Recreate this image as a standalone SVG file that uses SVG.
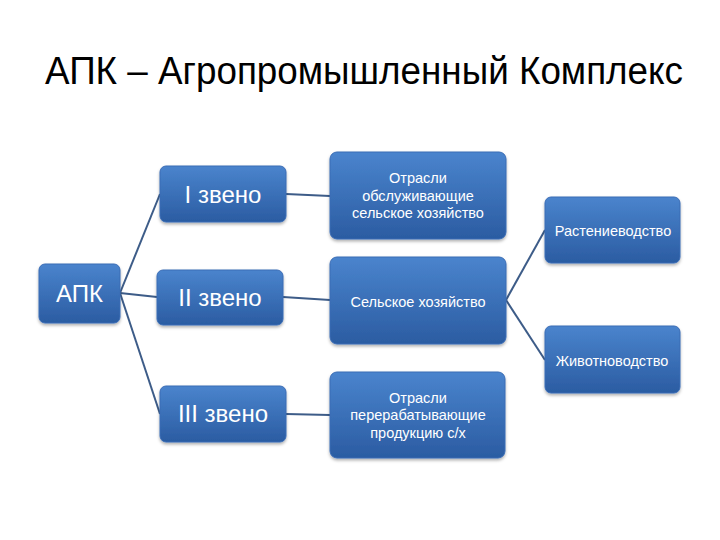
<svg xmlns="http://www.w3.org/2000/svg" width="720" height="540" viewBox="0 0 720 540">
<defs>
<linearGradient id="g" x1="0" y1="0" x2="0" y2="1">
<stop offset="0" stop-color="#4a84cd"/>
<stop offset="1" stop-color="#2b5ca2"/>
</linearGradient>
<filter id="sh" x="-10%" y="-10%" width="120%" height="130%">
<feDropShadow dx="0" dy="2" stdDeviation="1.5" flood-color="#000" flood-opacity="0.3"/>
</filter>
</defs>
<style>
.box{fill:url(#g);stroke:#3a6cb5;stroke-width:1;filter:url(#sh)}
.t{font-family:"Liberation Sans","DejaVu Sans",sans-serif;fill:#fff;text-anchor:middle}
.big{font-size:24px}
.sm{font-size:14.5px}
.con line{stroke:#3d5c88;stroke-width:2}
.title{font-family:"Liberation Sans","DejaVu Sans",sans-serif;font-size:38px;fill:#000}
</style>
<rect width="720" height="540" fill="#fff"/>
<text class="title" x="45" y="84" textLength="638" lengthAdjust="spacingAndGlyphs">АПК – Агропромышленный Комплекс</text>
<g id="connectors" class="con">
<line x1="120" y1="293" x2="160" y2="194"/>
<line x1="120" y1="293" x2="157" y2="297"/>
<line x1="120" y1="293" x2="160" y2="414"/>
<line x1="286" y1="194" x2="330" y2="196"/>
<line x1="283" y1="297" x2="330" y2="300"/>
<line x1="286" y1="414" x2="330" y2="415"/>
<line x1="506" y1="300" x2="545" y2="230"/>
<line x1="506" y1="300" x2="545" y2="360"/>
</g>
<g id="apk"><rect class="box" x="39" y="264" width="81" height="59" rx="6"/><text class="t big" x="79.5" y="302">АПК</text></g>
<g id="zveno1"><rect class="box" x="160" y="166" width="126" height="56" rx="6"/><text class="t big" x="223" y="203">I звено</text></g>
<g id="zveno2"><rect class="box" x="157" y="270" width="126" height="55" rx="6"/><text class="t big" x="220" y="306">II звено</text></g>
<g id="zveno3"><rect class="box" x="160" y="386" width="126" height="56" rx="6"/><text class="t big" x="223" y="422">III звено</text></g>
<g id="obsl"><rect class="box" x="330" y="152" width="176" height="87" rx="7"/>
<text class="t sm" x="418" y="183">Отрасли</text>
<text class="t sm" x="418" y="201">обслуживающие</text>
<text class="t sm" x="418" y="218">сельское хозяйство</text></g>
<g id="selhoz"><rect class="box" x="330" y="257" width="176" height="87" rx="7"/><text class="t sm" x="418" y="307">Сельское хозяйство</text></g>
<g id="pererab"><rect class="box" x="330" y="372" width="175" height="86" rx="7"/>
<text class="t sm" x="418" y="403">Отрасли</text>
<text class="t sm" x="418" y="420">перерабатывающие</text>
<text class="t sm" x="418" y="438">продукцию с/х</text></g>
<g id="rast"><rect class="box" x="545" y="197" width="135" height="66" rx="6"/><text class="t sm" x="613" y="236">Растениеводство</text></g>
<g id="zhiv"><rect class="box" x="545" y="326" width="135" height="67" rx="6"/><text class="t sm" x="612" y="366">Животноводство</text></g>
</svg>
